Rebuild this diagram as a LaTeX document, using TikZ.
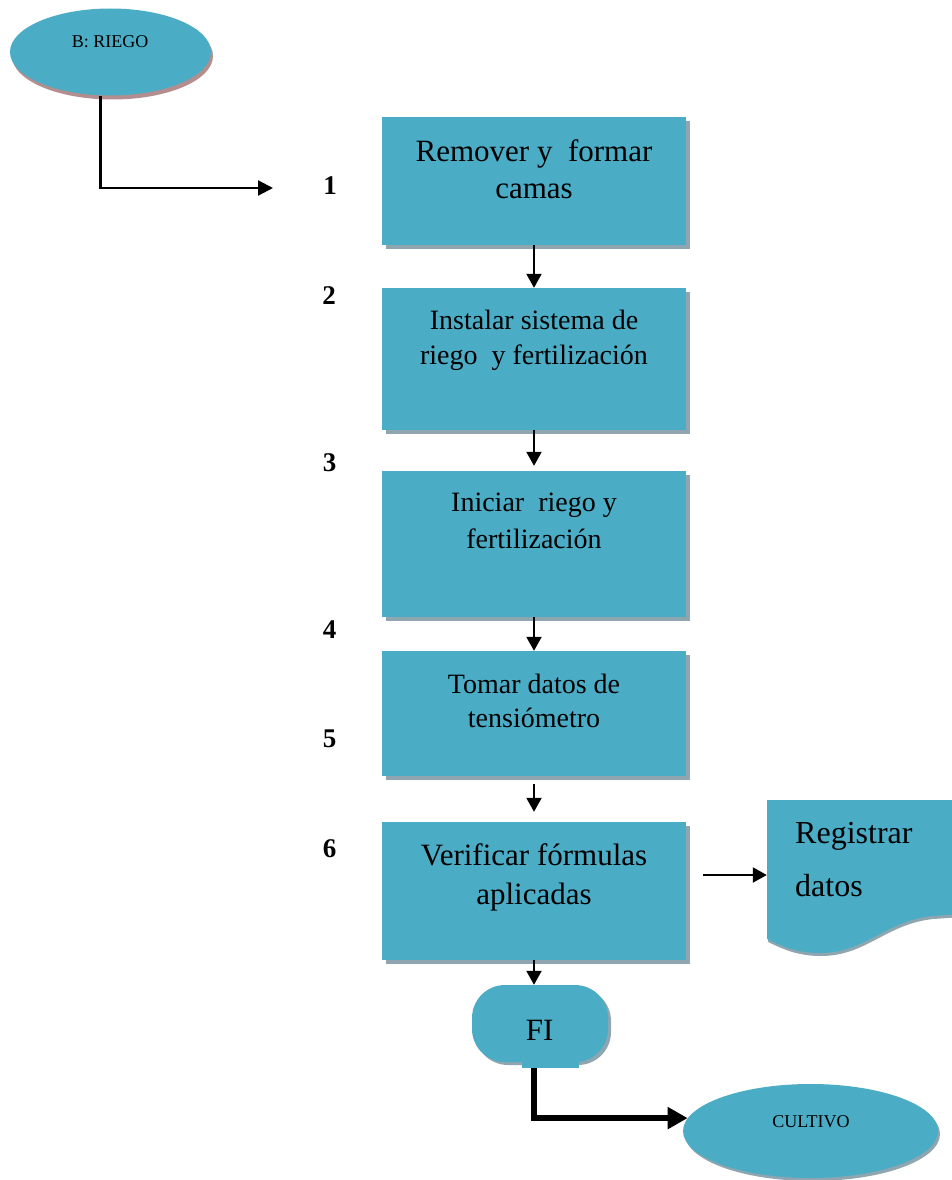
\documentclass[tikz,border=0pt]{standalone}
\usepackage{fontspec}
\setmainfont{Liberation Serif}
\usetikzlibrary{arrows.meta,calc,shapes.geometric,shadows}
\definecolor{boxfill}{HTML}{4BACC6}
\definecolor{boxshade}{HTML}{8FA5AF}
\definecolor{rieshade}{HTML}{B48E8E}

\begin{document}
\begin{tikzpicture}[x=1pt,y=-1pt,
  stepbox/.style={rectangle, fill=boxfill, minimum width=304pt, inner sep=0pt,
    drop shadow={shadow xshift=4pt, shadow yshift=-4pt, fill=boxshade, opacity=1}},
  txt/.style={align=center, inner sep=0pt},
  num/.style={inner sep=0pt, font=\bfseries\fontsize{27pt}{30pt}\selectfont},
  arr/.style={line width=2pt, -{Triangle[length=14pt,width=15pt]}},
  bigarr/.style={line width=6.5pt, -{Triangle[length=20pt,width=21pt]}},
]
\useasboundingbox (0,0) rectangle (952,1180);

% start and end ellipses
\node[ellipse, fill=boxfill, minimum width=201pt, minimum height=87pt, inner sep=0pt,
  drop shadow={shadow xshift=2pt, shadow yshift=-4pt, fill=rieshade, opacity=1}] (bR) at (110.5,52) {};
\node[txt, font=\fontsize{18pt}{20pt}\selectfont] (bRt) at (110,41.7) {B: RIEGO};

\node[ellipse, fill=boxfill, minimum width=255pt, minimum height=94pt, inner sep=0pt,
  drop shadow={shadow xshift=2pt, shadow yshift=-3pt, fill=boxshade, opacity=1}] (cult) at (810.5,1131) {};
\node[txt, font=\fontsize{18pt}{20pt}\selectfont] (cultt) at (811,1121.5) {CULTIVO};

% process steps
\node[stepbox, minimum height=128pt] (b1) at (534,181) {};
\node[stepbox, minimum height=142pt] (b2) at (534,359) {};
\node[stepbox, minimum height=146pt] (b3) at (534,544) {};
\node[stepbox, minimum height=125pt] (b4) at (534,713.5) {};
\node[stepbox, minimum height=138pt] (b5) at (534,891) {};

\node[txt, font=\fontsize{31pt}{37pt}\selectfont] (t1) at (534,169.5) {Remover y~ formar\\camas};
\node[txt, font=\fontsize{28pt}{35pt}\selectfont] (t2) at (534,340) {Instalar sistema de\\riego~ y fertilización};
\node[txt, font=\fontsize{28pt}{37pt}\selectfont] (t3) at (534,521) {Iniciar~ riego y\\fertilización};
\node[txt, font=\fontsize{28pt}{34pt}\selectfont] (t4) at (534,700.5) {Tomar datos de\\tensiómetro};
\node[txt, font=\fontsize{31pt}{39pt}\selectfont] (t5) at (534,877) {Verificar fórmulas\\aplicadas};

% step numbers
\node[num] (n1) at (330,186) {1};
\node[num] (n2) at (329,296) {2};
\node[num] (n3) at (329.5,462.5) {3};
\node[num] (n4) at (329.5,630) {4};
\node[num] (n5) at (329.5,739) {5};
\node[num] (n6) at (329.5,849) {6};

% terminator
\node[rectangle, rounded corners=33pt, fill=boxfill, minimum width=136pt, minimum height=77pt,
  inner sep=0pt, drop shadow={shadow xshift=3pt, shadow yshift=-3pt, fill=boxshade, opacity=1}] (fi) at (540,1023.5) {};
\fill[boxfill] ($(fi.south)+(-18,-2)$) rectangle ($(fi.south)+(39,6)$);
\node[txt, font=\fontsize{31pt}{34pt}\selectfont] (fit) at (539.7,1030) {FI};

% document shape
\node[rectangle, minimum width=193pt, minimum height=150pt, inner sep=0pt] (reg) at (863.5,875) {};
\fill[boxshade] (768,803) -- (962,803) -- (962,917) -- (933,919)
  .. controls (886,924) and (866,956) .. (821,956)
  .. controls (796,956) and (781,948) .. (768,942) -- cycle;
\fill[boxfill] (767,800) -- (960,800) -- (960,914) -- (932,916)
  .. controls (885,921) and (865,953) .. (820,953)
  .. controls (795,953) and (780,945) .. (767,939) -- cycle;
\node[txt, align=left, anchor=west, font=\fontsize{32pt}{53pt}\selectfont] (regt) at (795,860) {Registrar\\datos};

% connectors
\coordinate (a1end) at (273,188);
\coordinate (a6start) at (703,875);
\draw[line width=2.2pt, -{Triangle[length=15pt,width=15pt]}] ($(bR.south)+(-10,0)$) |- (a1end);
\draw[arr] (b1.south) -- (b2.north);
\draw[arr, shorten >=5pt] (b2.south) -- (b3.north);
\draw[arr] (b3.south) -- (b4.north);
\draw[arr, shorten <=8pt, shorten >=10pt] (b4.south) -- (b5.north);
\draw[arr] (b5.south) -- (b5.south |- fi.north);
\draw[arr] (a6start) -- (reg.west);
\draw[bigarr] ($(fi.south -| b5.south)+(0,6)$) |- (cult.174);
\end{tikzpicture}
\end{document}
